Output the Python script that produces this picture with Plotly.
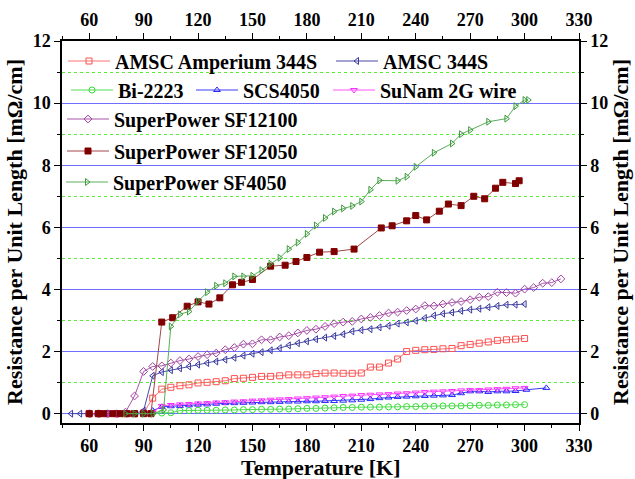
import plotly.graph_objects as go

# ---------------- data ----------------
amp_T = [60, 65, 70, 75, 80, 85, 90, 95, 100, 105, 110, 115, 120, 125, 130, 135, 140, 145, 150, 155, 160,
         165, 170, 175, 180, 185, 190, 195, 200, 205, 210, 215, 220, 225, 230, 235, 240, 245, 250, 255,
         260, 265, 270, 275, 280, 285, 290, 295, 300]
amp_R = [0, 0, 0, 0, 0, 0, 0.03, 0.5, 0.79, 0.85, 0.9, 0.93, 0.99, 1.01, 1.03, 1.06, 1.13, 1.14, 1.17, 1.2, 1.2,
         1.22, 1.25, 1.25, 1.25, 1.29, 1.31, 1.31, 1.3, 1.3, 1.31, 1.5, 1.5, 1.63, 1.76, 2.0, 2.04, 2.06, 2.07, 2.09,
         2.1, 2.19, 2.23, 2.27, 2.31, 2.36, 2.38, 2.4, 2.42]

a344_T = [50, 55, 60, 65, 70, 75, 80, 85, 90, 95, 100, 105, 110, 115, 120, 125, 130, 135, 140, 145, 150, 155,
          160, 165, 170, 175, 180, 185, 190, 195, 200, 205, 210, 215, 220, 225, 230, 235, 240, 245, 250,
          255, 260, 265, 270, 275, 280, 285, 290, 295, 300]
a344_R = [0, 0, 0, 0, 0, 0, 0, 0, 0.1, 1.22, 1.34, 1.4, 1.46, 1.52, 1.58, 1.63, 1.68, 1.74, 1.8, 1.87, 1.93, 1.98,
          2.04, 2.11, 2.2, 2.27, 2.33, 2.4, 2.45, 2.5, 2.56, 2.65, 2.69, 2.72, 2.78, 2.83, 2.9, 2.94, 2.99, 3.08, 3.16,
          3.22, 3.26, 3.31, 3.35, 3.38, 3.43, 3.47, 3.51, 3.51, 3.53]

bi_T = [95, 100, 105, 110, 115, 120, 125, 130, 135, 140, 145, 150, 155, 160, 165, 170, 175, 180, 185, 190,
        195, 200, 205, 210, 215, 220, 225, 230, 235, 240, 245, 250, 255, 260, 265, 270, 275, 280, 285, 290,
        295, 300]
bi_R = [0.02, 0.02, 0.03, 0.1, 0.1, 0.11, 0.11, 0.11, 0.12, 0.12, 0.13, 0.13, 0.14, 0.14, 0.15, 0.15, 0.16, 0.17,
        0.17, 0.18, 0.19, 0.2, 0.2, 0.21, 0.21, 0.21, 0.22, 0.22, 0.23, 0.23, 0.24, 0.24, 0.25, 0.25, 0.25, 0.26,
        0.27, 0.27, 0.28, 0.28, 0.29, 0.29]

scs_T = [60, 65, 70, 75, 80, 85, 90, 95, 100, 105, 110, 115, 120, 125, 130, 135, 140, 145, 150, 155, 160, 165,
         170, 175, 180, 185, 190, 195, 200, 205, 210, 215, 220, 225, 230, 235, 240, 245, 250, 255, 260, 265,
         270, 275, 280, 285, 290, 295, 301, 312]
scs_R = [0, 0, 0, 0, 0, 0, 0, 0.1, 0.22, 0.24, 0.25, 0.27, 0.29, 0.3, 0.32, 0.34, 0.34, 0.35, 0.36, 0.37, 0.37,
         0.38, 0.39, 0.39, 0.4, 0.4, 0.41, 0.41, 0.42, 0.43, 0.45, 0.47, 0.5, 0.52, 0.54, 0.55, 0.56, 0.57, 0.58,
         0.59, 0.6, 0.66, 0.72, 0.72, 0.7, 0.72, 0.72, 0.73, 0.77, 0.83]

sun_T = [60, 65, 70, 75, 80, 85, 90, 95, 100, 105, 110, 115, 120, 125, 130, 135, 140, 145, 150, 155, 160, 165,
         170, 175, 180, 185, 190, 195, 200, 205, 210, 215, 220, 225, 230, 235, 240, 245, 250, 255, 260, 265,
         270, 275, 280, 285, 290, 295, 300]
sun_R = [0, 0, 0, 0, 0, 0, 0, 0.05, 0.25, 0.28, 0.3, 0.31, 0.33, 0.34, 0.36, 0.37, 0.39, 0.4, 0.42, 0.43, 0.45,
         0.46, 0.47, 0.49, 0.5, 0.52, 0.53, 0.55, 0.57, 0.58, 0.6, 0.61, 0.62, 0.63, 0.65, 0.66, 0.68, 0.7, 0.71,
         0.72, 0.73, 0.75, 0.76, 0.76, 0.78, 0.79, 0.8, 0.82, 0.83]

sf12100_T = [60, 65, 70, 75, 80, 85, 90, 95, 100, 105, 110, 115, 120, 125, 130, 135, 140, 145, 150, 155, 160,
             165, 170, 175, 180, 185, 190, 195, 200, 205, 210, 215, 220, 225, 230, 235, 240, 245, 250, 255,
             260, 265, 270, 275, 280, 285, 290, 295, 300, 305, 310, 315, 320]
sf12100_R = [0, 0, 0, 0, 0.05, 0.57, 1.36, 1.52, 1.54, 1.63, 1.71, 1.76, 1.84, 1.9, 1.95, 2.06, 2.13, 2.24, 2.25,
             2.38, 2.38, 2.47, 2.51, 2.6, 2.68, 2.72, 2.81, 2.9, 2.95, 2.97, 3.05, 3.1, 3.16, 3.24, 3.27, 3.32,
             3.37, 3.48, 3.47, 3.53, 3.58, 3.61, 3.67, 3.75, 3.77, 3.91, 3.9, 3.88, 4.01, 4.06, 4.2, 4.22, 4.34]

sf12050_T = [60, 65, 68, 73, 77, 81, 85, 90, 94, 100, 106, 114, 120, 126, 132, 139, 144, 150, 160, 168, 174,
             180, 187, 195, 206, 221, 227, 235, 240, 246, 253, 258, 265, 272, 278, 284, 288, 295, 297]
sf12050_R = [0, 0, 0, 0, 0, 0, 0, 0, 0, 2.95, 3.09, 3.46, 3.6, 3.53, 3.73, 4.15, 4.23, 4.32, 4.75, 4.78, 4.9,
             5.03, 5.2, 5.22, 5.3, 5.98, 6.05, 6.21, 6.38, 6.24, 6.52, 6.75, 6.7, 7.0, 6.92, 7.26, 7.45, 7.41, 7.5]

sf4050_T = [80, 85, 90, 95, 101, 105, 110, 115, 120, 125, 130, 135, 140, 145, 150, 155, 160, 165, 170, 175,
            180, 185, 190, 195, 200, 205, 210, 215, 220, 230, 235, 240, 250, 260, 265, 270, 280, 290, 295,
            300, 302]
sf4050_R = [0, 0, 0, 0, 0.12, 2.81, 3.2, 3.29, 3.62, 3.91, 4.12, 4.2, 4.42, 4.42, 4.44, 4.62, 4.83, 5.02, 5.3,
            5.51, 5.79, 6.06, 6.3, 6.51, 6.61, 6.69, 6.83, 7.21, 7.51, 7.5, 7.63, 7.95, 8.4, 8.7, 9.0, 9.13, 9.4,
            9.5, 9.9, 10.1, 10.1]

x_ticks = [60, 90, 120, 150, 180, 210, 240, 270, 300, 330]
y_ticks = [0, 2, 4, 6, 8, 10, 12]
x_title = "Temperature [K]"
y_title = "Resistance per Unit Length [mΩ/cm]"

# ---------------- styling ----------------
FONT = "Liberation Serif"
series = [
    ("AMSC Amperium 344S", amp_T, amp_R, "#FF5050", "#FF7070", "square-open", "legend"),
    ("AMSC 344S", a344_T, a344_R, "#3838A0", "#4A4AA8", "triangle-left-open", "legend2"),
    ("Bi-2223", bi_T, bi_R, "#33DD33", "#55DD55", "circle-open", "legend3"),
    ("SCS4050", scs_T, scs_R, "#2626FF", "#3A3AFF", "triangle-up-open", "legend4"),
    ("SuNam 2G wire", sun_T, sun_R, "#FF30FF", "#FF55FF", "triangle-down-open", "legend5"),
    ("SuperPower SF12100", sf12100_T, sf12100_R, "#A040A0", "#A855A8", "diamond-open", "legend6"),
    ("SuperPower SF12050", sf12050_T, sf12050_R, "#800000", "#A04848", "square", "legend7"),
    ("SuperPower SF4050", sf4050_T, sf4050_R, "#3C9A3C", "#5AAE5A", "triangle-right-open", "legend8"),
]

fig = go.Figure()
for name, T, R, mcol, lcol, sym, leg in series:
    fig.add_trace(go.Scatter(
        x=T, y=R, name=name, mode="lines+markers", legend=leg,
        line=dict(color=lcol, width=1),
        marker=dict(symbol=sym, size=6, color=mcol, line=dict(color=mcol, width=1)),
    ))

# invisible trace to activate top / right axes
fig.add_trace(go.Scatter(x=[x_ticks[0]], y=[y_ticks[0]], xaxis="x2", yaxis="y2",
                         mode="markers", marker=dict(opacity=0), showlegend=False, hoverinfo="skip"))

tickfont = dict(family=FONT, size=18, color="black", weight="bold")
titlefont = dict(family=FONT, size=22, color="black", weight="bold")

xcommon = dict(range=[45, 330], tickvals=x_ticks, ticks="outside", ticklen=6, tickwidth=1,
               tickcolor="black", showline=True, linecolor="black", linewidth=1.5,
               showgrid=False, zeroline=False, tickfont=tickfont, automargin=False,
               minor=dict(dtick=15, tick0=45, ticks="outside", ticklen=3, tickcolor="black"))
ycommon = dict(range=[-0.3, 12], tickvals=y_ticks, ticks="outside", ticklen=6, tickwidth=1,
               tickcolor="black", showline=True, linecolor="black", linewidth=1.5,
               zeroline=False, tickfont=tickfont, automargin=False)

pw = 635 - 62 - 56
ph = 479 - 41 - 56
def px2x(px):
    return (px - 62) / pw
def py2y(py):
    return (479 - 56 - py) / ph

layout = dict(
    width=635, height=479,
    margin=dict(l=62, r=56, t=41, b=56, autoexpand=False),
    paper_bgcolor="white", plot_bgcolor="white",
    font=dict(family=FONT, color="black"),
    xaxis=dict(**xcommon),
    xaxis2=dict(**xcommon, overlaying="x", side="top", anchor="y"),
    yaxis=dict(**ycommon, showgrid=True, gridcolor="#6E6EFF", gridwidth=1.3,
               minor=dict(dtick=1, tick0=0, ticks="outside", ticklen=3, tickcolor="black",
                          showgrid=True, gridcolor="#55EE33", griddash="dot", gridwidth=1.3),
               title=dict(text=y_title, font=titlefont, standoff=4)),
    yaxis2=dict(**ycommon, overlaying="y", side="right", anchor="x", showgrid=False,
                minor=dict(dtick=1, tick0=0, ticks="outside", ticklen=3, tickcolor="black"),
                title=dict(text=y_title, font=titlefont, standoff=4)),
    showlegend=True,
    annotations=[dict(text=x_title, xref="paper", yref="paper", x=0.5, y=py2y(467),
                      xanchor="center", yanchor="middle", showarrow=False, font=titlefont)],
)

# one legend per item to reproduce the multi-row arrangement
leg_pos = {
    "legend": (63, 61), "legend2": (331, 61),
    "legend3": (66, 90), "legend4": (191, 90), "legend5": (328, 90),
    "legend6": (62, 119), "legend7": (62, 151), "legend8": (61, 182),
}
for key, (lx, ly) in leg_pos.items():
    layout[key] = dict(x=px2x(lx), y=py2y(ly), xanchor="left", yanchor="middle",
                       bgcolor="rgba(0,0,0,0)", borderwidth=0, itemwidth=42,
                       font=dict(family=FONT, size=20, color="black", weight="bold"),
                       orientation="v", tracegroupgap=0)

fig.update_layout(**layout)
fig.write_html("out.html")
